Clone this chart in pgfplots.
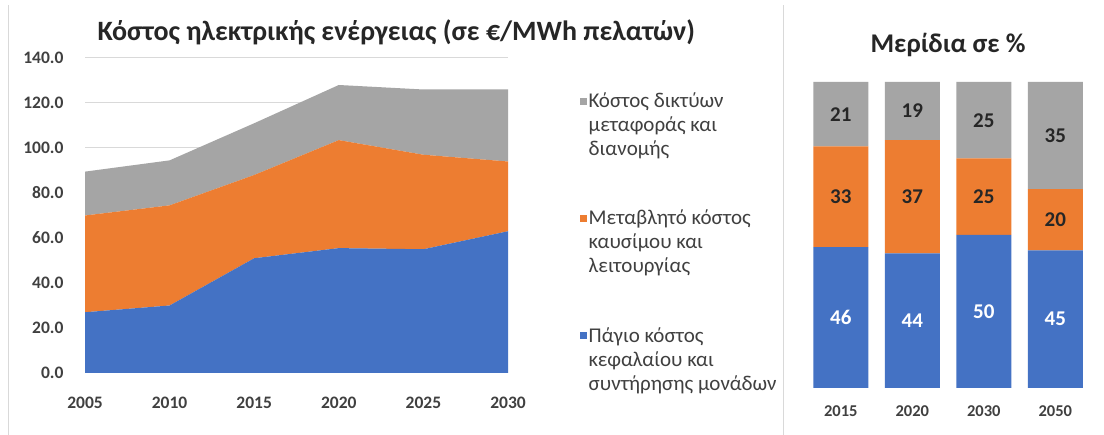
\documentclass[border=0pt]{standalone}
\usepackage{fontspec}
\setmainfont{Carlito}
\usepackage{pgfplots}
\pgfplotsset{compat=1.18}
\definecolor{cblue}{HTML}{4472C4}
\definecolor{corange}{HTML}{ED7D31}
\definecolor{cgray}{HTML}{A5A5A5}
\definecolor{cgrid}{HTML}{D9D9D9}
\definecolor{ctext}{HTML}{404040}
\definecolor{ctitle}{HTML}{262626}
\begin{document}
\begin{tikzpicture}
\useasboundingbox (0,0) rectangle (1104pt,435pt);
\fill[white] (0,0) rectangle (1104pt,435pt);
\draw[cgrid, line width=1pt] (8pt,0) -- (8pt,430pt);
\draw[cgrid, line width=1pt] (783pt,0) -- (783pt,430pt);
\node[anchor=west, font=\fontsize{28}{32}\selectfont\bfseries, text=ctitle] at (94pt,403pt) {Κόστος ηλεκτρικής ενέργειας (σε €/MWh πελατών)};
\node[anchor=center, font=\fontsize{27}{31}\selectfont\bfseries, text=ctitle] at (948pt,390pt) {Μερίδια σε \%};

\begin{axis}[
  at={(85pt,62pt)}, anchor=south west,
  width=423pt, height=315pt, scale only axis,
  xmin=2005, xmax=2030, ymin=0, ymax=140,
  xtick={2005,2010,2015,2020,2025,2030},
  xticklabels={2005,2010,2015,2020,2025,2030},
  ytick={0,20,40,60,80,100,120,140},
  yticklabels={0.0,20.0,40.0,60.0,80.0,100.0,120.0,140.0},
  /pgf/number format/assume math mode=true,
  stack plots=y,
  axis line style={draw=none},
  major tick length=0pt,
  ymajorgrids, grid style={cgrid, line width=1pt},
  tick label style={font=\fontsize{17.5}{20}\selectfont\bfseries, text=ctext},
  xticklabel style={yshift=-20pt},
  yticklabel style={xshift=-18pt},
  legend style={at={(1.162,0.903)}, anchor=north west, draw=none, fill=none,
    font=\fontsize{21}{24}\selectfont, text=ctext, row sep=49pt,
    cells={align=left}},
  legend cell align=left,
  reverse legend,
  legend image code/.code={\fill[#1] (0pt,20pt) rectangle (7pt,27pt);},
]
\addplot[fill=cblue, draw=none] coordinates {(2005,27) (2010,30) (2015,51) (2020,55.5) (2025,55) (2030,63)} \closedcycle;
\addlegendentry{Πάγιο κόστος\\κεφαλαίου και\\συντήρησης μονάδων}
\addplot[fill=corange, draw=none] coordinates {(2005,43) (2010,44.5) (2015,37) (2020,48) (2025,42) (2030,31)} \closedcycle;
\addlegendentry{Μεταβλητό κόστος\\καυσίμου και\\λειτουργίας}
\addplot[fill=cgray, draw=none] coordinates {(2005,19.5) (2010,20) (2015,23) (2020,24.5) (2025,29) (2030,32)} \closedcycle;
\addlegendentry{Κόστος δικτύων\\μεταφοράς και\\διανομής}
\end{axis}

% stacked share bars
\begin{axis}[
  at={(805pt,47pt)}, anchor=south west,
  width=286pt, height=306pt, scale only axis,
  xmin=-0.5, xmax=3.5, ymin=0, ymax=100,
  ybar stacked, bar width=55pt,
  xtick={0,1,2,3}, xticklabels={2015,2020,2030,2050},
  ytick=\empty,
  axis line style={draw=none},
  major tick length=0pt,
  tick label style={font=\fontsize{16.5}{19}\selectfont\bfseries, text=ctext},
  xticklabel style={yshift=-14pt},
]
\addplot[fill=cblue, draw=none] coordinates {(0,46) (1,44) (2,50) (3,45)};
\addplot[fill=corange, draw=none] coordinates {(0,33) (1,37) (2,25) (3,20)};
\addplot[fill=cgray, draw=none] coordinates {(0,21) (1,19) (2,25) (3,35)};
\end{axis}

% value labels at segment centres
\begin{axis}[
  at={(805pt,47pt)}, anchor=south west,
  width=286pt, height=306pt, scale only axis,
  xmin=-0.5, xmax=3.5, ymin=0, ymax=100,
  hide axis,
  point meta=explicit symbolic,
  nodes near coords,
  every node near coord/.append style={anchor=center, font=\fontsize{21}{24}\selectfont\bfseries, text=ctitle},
]
\addplot[draw=none, mark=none, every node near coord/.append style={text=white}] coordinates {(0,23)[46] (1,22)[44] (2,25)[50] (3,22.5)[45]};
\addplot[draw=none, mark=none] coordinates {(0,62.5)[33] (1,62.5)[37] (2,62.5)[25] (3,55)[20]};
\addplot[draw=none, mark=none] coordinates {(0,89.5)[21] (1,90.5)[19] (2,87.5)[25] (3,82.5)[35]};
\end{axis}
\end{tikzpicture}
\end{document}
